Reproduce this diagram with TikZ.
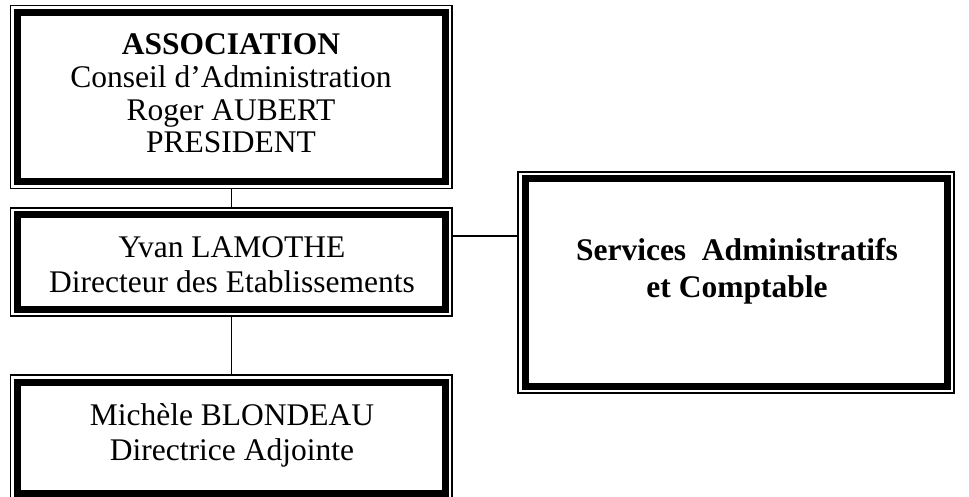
\documentclass[tikz,border=0pt]{standalone}
\usepackage{fontspec}
\setmainfont{Liberation Serif}
\begin{document}
\begin{tikzpicture}[x=1pt,y=-1pt,
  frame/.style={draw, line width=7pt, inner sep=0pt, outer sep=0pt,
    append after command={\pgfextra{\let\fnode\tikzlastnode
      \draw[line width=1.6pt] ([shift={(-7,-7)}]\fnode.north west) rectangle ([shift={(7,7)}]\fnode.south east);}}},
  txt/.style={align=center, anchor=base, inner sep=0pt, font=\fontsize{31.5}{#1}\selectfont},
  conn/.style={line width=1.3pt, shorten <=7pt, shorten >=7pt}]
\path[use as bounding box, clip] (0,0) rectangle (969,497);
\node[frame, minimum width=427.5, minimum height=169] (b1) at (231.25,97) {};
\node[frame, minimum width=427.5, minimum height=94] (b2) at (231.25,262) {};
\node[frame, minimum width=422, minimum height=207] (b3) at (736,282.5) {};
\node[frame, minimum width=427.5, minimum height=111.5] (b4) at (231.25,437.75) {};
\node[txt=32.7] (t1) at (231,153) {\textbf{ASSOCIATION}\\Conseil d’Administration\\Roger AUBERT\\PRESIDENT};
\node[txt=35] (t2) at (232,292) {Yvan LAMOTHE\\Directeur des Etablissements};
\node[txt=37, font=\fontsize{31.5}{37}\selectfont\bfseries] (t3) at (737,297) {Services\ \ Administratifs\\et Comptable};
\node[txt=35] (t4) at (232,460) {Michèle BLONDEAU\\Directrice Adjointe};
\coordinate (hy) at (0,236);
\draw[conn] (b1.south) -- (b2.north);
\draw[conn] (b2.south) -- (b4.north);
\draw[conn] (b2.east |- hy) -- (b3.west |- hy);
\end{tikzpicture}
\end{document}
